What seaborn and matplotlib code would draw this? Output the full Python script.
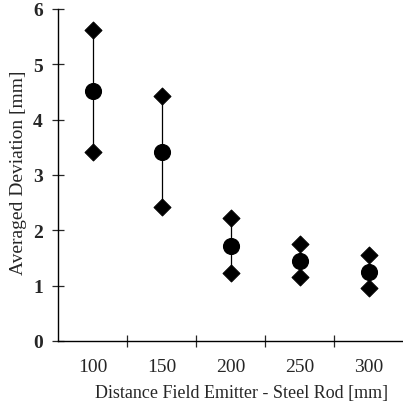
import numpy as np
import pandas as pd
import matplotlib
matplotlib.use("Agg")
import matplotlib.pyplot as plt
import seaborn as sns

# data
distances = ["100", "150", "200", "250", "300"]
mean_dev = [4.52, 3.42, 1.72, 1.45, 1.25]
max_dev = [5.62, 4.42, 2.22, 1.75, 1.55]
min_dev = [3.42, 2.42, 1.22, 1.15, 0.95]

df = pd.DataFrame({"Distance": distances, "Mean": mean_dev,
                   "Max": max_dev, "Min": min_dev})

sns.set_theme(style="ticks")
plt.rcParams["font.family"] = ["Liberation Serif", "DejaVu Serif"]

fig = plt.figure(figsize=(4.03, 4.14), dpi=100)
ax = fig.add_axes([0.144, 0.174, 0.856, 0.802])

# thin vertical range lines
xpos = np.arange(len(df))
ax.vlines(xpos, df["Min"], df["Max"], color="black", lw=0.9, zorder=1)

sns.scatterplot(data=df, x="Distance", y="Max", marker="D", s=75,
                color="black", edgecolor="black", ax=ax, zorder=3)
sns.scatterplot(data=df, x="Distance", y="Min", marker="D", s=75,
                color="black", edgecolor="black", ax=ax, zorder=3)
sns.scatterplot(data=df, x="Distance", y="Mean", marker="o", s=130,
                color="black", edgecolor="black", ax=ax, zorder=4)

ax.set_xlim(-0.5, 4.5)
ax.set_ylim(0, 6)
ax.set_yticks(range(0, 7))
ax.set_xticks(xpos)
ax.set_xticklabels(distances)
ax.set_xticks(xpos[:-1] + 0.5, minor=True)
ax.tick_params(axis="x", which="major", length=0, pad=12, labelsize=14)
ax.tick_params(axis="x", which="minor", direction="inout", length=8, width=0.9)
ax.tick_params(axis="y", direction="inout", length=8, width=0.9, pad=7,
               labelsize=14)
for lab in ax.get_yticklabels():
    lab.set_fontweight("bold")

sns.despine(ax=ax)
for sp in ["left", "bottom"]:
    ax.spines[sp].set_linewidth(1.0)
    ax.spines[sp].set_color("black")

ax.set_xlabel("Distance Field Emitter - Steel Rod [mm]", fontsize=13,
              labelpad=7)
ax.xaxis.label.set_x(0.532)
ax.set_ylabel("Averaged Deviation [mm]", fontsize=14, labelpad=4)
ax.yaxis.label.set_y(0.51)

fig.savefig("out.png", dpi=100)
